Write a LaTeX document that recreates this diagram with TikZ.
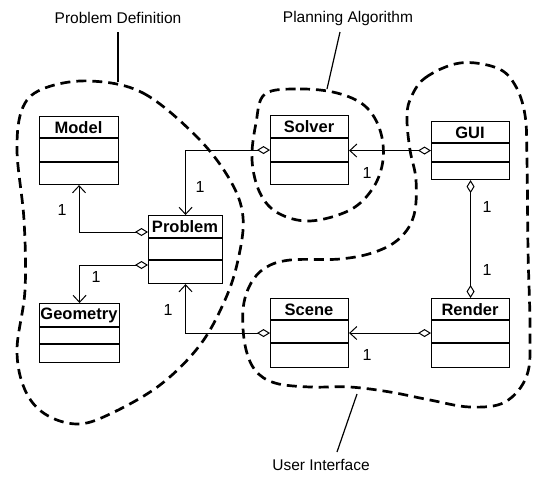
\documentclass[tikz,border=0pt]{standalone}
\usepackage{fontspec}
\setmainfont{Liberation Sans}
\usetikzlibrary{arrows.meta}

\tikzset{
  classbox/.style={draw, line width=1.1pt, inner sep=0pt, anchor=north west},
  classtitle/.style={font=\fontsize{16.5}{18}\selectfont\bfseries, inner sep=0pt},
  mult/.style={font=\fontsize{16}{18}\selectfont, inner sep=0pt},
  caption/.style={font=\fontsize{15.5}{18}\selectfont, inner sep=1pt},
  link/.style={line width=1pt},
  agg/.style={link, {Diamond[open, length=13pt, width=8pt, line width=1pt]}-{Straight Barb[length=7pt, width=13pt, line width=1pt]}},
  aggboth/.style={link, {Diamond[open, length=13pt, width=8pt, line width=1pt]}-{Diamond[open, length=13pt, width=8pt, line width=1pt]}},
  blob/.style={line width=2.7pt, dash pattern=on 10pt off 6pt},
  leader/.style={line width=1.2pt},
}

% \umlclass{name}{x1}{y1}{x2}{y2}{divider1}{divider2}{title}
\newcommand\umlclass[8]{%
  \node[classbox, minimum width={#4-#2}, minimum height={#5-#3}] (#1) at (#2,#3) {};
  \draw[line width=1.1pt] (#1.west |- 0,#6) -- (#1.east |- 0,#6);
  \draw[line width=1.1pt] (#1.west |- 0,#7) -- (#1.east |- 0,#7);
  \node[classtitle] (#1-title) at ({(#2+#4)/2},{(#3+#6)/2+0.5}) {#8};
}

\begin{document}
\begin{tikzpicture}[x=1pt, y=-1pt]
\useasboundingbox (0,0) rectangle (537,477);

% classes
\umlclass{model}{39}{116}{118}{184}{138}{162}{Model}
\umlclass{problem}{148}{215}{222}{283}{238}{260}{Problem}
\umlclass{geometry}{39}{303}{119}{362}{327}{344}{Geometry}
\umlclass{solver}{270}{115}{348}{184}{138}{162}{Solver}
\umlclass{gui}{431}{121}{509}{179}{143}{162}{GUI}
\umlclass{scene}{270}{298}{348}{367}{320}{343}{Scene}
\umlclass{render}{431}{298}{509}{367}{320}{343}{Render}

% associations
\draw[agg] (solver.west) -| (problem.north);
\draw[agg] (problem.west |- 0,232) -| (model.south);
\draw[agg] (problem.west |- 0,265) -| (geometry.north);
\draw[agg] (scene.west) -| (problem.south);
\draw[agg] (gui.west) -- (solver.east |- gui.west);
\draw[aggboth] (gui.south) -- (render.north);
\draw[agg] (render.west) -- (scene.east);

% multiplicities
\node[mult] (m1) at (200,187) {1};
\node[mult] (m2) at (62,210) {1};
\node[mult] (m3) at (96,277) {1};
\node[mult] (m4) at (168,310) {1};
\node[mult] (m5) at (367,173) {1};
\node[mult] (m6) at (487,207) {1};
\node[mult] (m7) at (487,270) {1};
\node[mult] (m8) at (367,355) {1};

% package outlines
\draw[blob] plot[smooth cycle, tension=0.6] coordinates {
  (90,81) (143,93) (197,137) (230,180) (243,217) (238,260) (225,300)
  (200,345) (160,385) (110,414) (77,424) (45,414) (25,390) (17,350)
  (25,290) (24,220) (17,150) (23,107) (45,88)};
\draw[blob] plot[smooth cycle, tension=0.6] coordinates {
  (265,94) (300,89) (337,93) (365,106) (380,130) (383,160) (373,188)
  (350,210) (310,221) (278,213) (260,193) (252,160) (256,123)};
\draw[blob] plot[smooth cycle, tension=0.6] coordinates {
  (410,100) (425,78) (460,63) (497,68) (515,85) (525,115) (527,160)
  (528,250) (530,330) (527,375) (505,402) (470,407) (430,400) (390,392)
  (350,387) (310,387) (275,383) (255,370) (245,345) (243,310) (250,285)
  (265,268) (290,260) (340,259) (375,252) (400,238) (414,215) (416,180)
  (410,150) (407,120)};

% package captions
\node[caption] (pdef) at (118,18) {Problem Definition};
\node[caption] (palg) at (348,18) {Planning Algorithm};
\node[caption] (uint) at (321,465) {User Interface};
\coordinate (pdefend) at (118,82);
\coordinate (palgend) at (327,89);
\coordinate (uintend) at (357,394);
\draw[leader] (118,32) -- (pdefend);
\draw[leader] (340,32) -- (palgend);
\draw[leader] (337,452) -- (uintend);
\end{tikzpicture}
\end{document}
